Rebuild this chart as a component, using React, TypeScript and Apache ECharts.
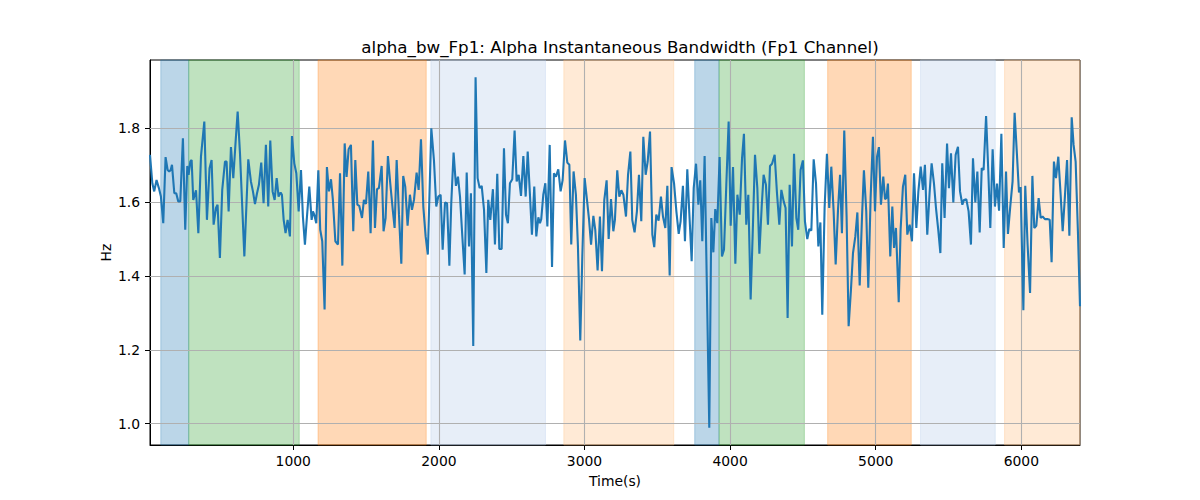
import React, { useEffect, useRef } from "react";
import * as echarts from "echarts";

const TITLE = "alpha_bw_Fp1: Alpha Instantaneous Bandwidth (Fp1 Channel)";
const X_NAME = "Time(s)";
const Y_NAME = "Hz";
const X_TICKS = [1000, 2000, 3000, 4000, 5000, 6000];
const Y_TICKS = [1.0, 1.2, 1.4, 1.6, 1.8];
const X_MIN = 16;
const X_MAX = 6403;
const Y_MIN = 0.942;
const Y_MAX = 1.985;

const times = [
  16, 32, 45, 61, 77, 91, 107, 123, 137, 148, 158, 167, 183, 196, 210, 224, 242, 258, 272, 281, 293, 302, 313, 332, 348, 366, 389, 407, 425, 439, 453, 469, 480, 496, 512, 531, 542, 556, 572, 588, 604, 618, 634,
  664, 691, 709, 723, 737, 751, 764, 780, 796, 812, 828, 842, 858, 872, 886, 899, 913, 922, 934, 947, 961, 977, 991, 1007, 1021, 1037, 1053, 1066, 1080, 1094, 1110, 1126, 1135, 1144, 1158, 1172, 1185, 1199, 1215, 1231, 1245, 1259, 1272, 1289,
  1307, 1321, 1337, 1353, 1366, 1380, 1396, 1412, 1426, 1440, 1453, 1472, 1485, 1499, 1515, 1531, 1547, 1561, 1575, 1588, 1607, 1620, 1634, 1650, 1666, 1682, 1696, 1710, 1726, 1742, 1755, 1769, 1785, 1801, 1815, 1829, 1847, 1861, 1877, 1893, 1909, 1924,
  1948, 1966, 1982, 1996, 2012, 2026, 2042, 2056, 2072, 2085, 2101, 2117, 2131, 2145, 2161, 2177, 2191, 2207, 2220, 2236, 2252, 2266, 2280, 2294, 2310, 2326, 2339, 2353, 2371, 2385, 2401, 2415, 2431, 2447, 2461, 2474, 2488, 2504, 2520, 2534, 2548, 2564,
  2580, 2596, 2610, 2626, 2639, 2655, 2669, 2683, 2694, 2703, 2717, 2731, 2745, 2761, 2777, 2790, 2804, 2820, 2836, 2850, 2866, 2882, 2896, 2909, 2925, 2941, 2955, 2971, 2985, 3001, 3017, 3031, 3045, 3061, 3074, 3090, 3106, 3120, 3136, 3152, 3166, 3182, 3198,
  3209, 3225, 3239, 3253, 3267, 3285, 3299, 3315, 3328, 3344, 3360, 3374, 3390, 3404, 3420, 3434, 3450, 3466, 3479, 3493, 3509, 3525, 3539, 3555, 3569, 3585, 3598, 3615, 3631, 3647, 3660, 3676, 3690, 3706, 3720, 3736, 3750, 3766, 3782, 3795, 3809, 3825,
  3857, 3871, 3885, 3898, 3912, 3928, 3944, 3958, 3974, 3990, 4004, 4020, 4036, 4050, 4066, 4082, 4095, 4111, 4125, 4141, 4155, 4171, 4187, 4201, 4217, 4230, 4246, 4260, 4274, 4288, 4306, 4322, 4338, 4352, 4368, 4381, 4395, 4409, 4425, 4439, 4455, 4468, 4484,
  4500, 4514, 4530, 4544, 4558, 4574, 4590, 4606, 4620, 4633, 4649, 4665, 4681, 4695, 4711, 4725, 4741, 4755, 4768, 4784, 4800, 4814, 4830, 4844, 4860, 4874, 4890, 4906, 4919, 4935, 4949, 4965, 4981, 4995, 5009, 5022, 5036, 5052, 5064, 5073, 5084, 5100, 5114,
  5126, 5139, 5158, 5171, 5187, 5203, 5217, 5233, 5249, 5263, 5279, 5293, 5309, 5325, 5338, 5354, 5370, 5384, 5400, 5414, 5430, 5444, 5457, 5473, 5490, 5503, 5517, 5533, 5549, 5565, 5579, 5595, 5606, 5622, 5638, 5654, 5668, 5684, 5698, 5714, 5728, 5741, 5758,
  5773, 5787, 5803, 5819, 5833, 5847, 5863, 5879, 5895, 5908, 5924, 5940, 5954, 5970, 5984, 5995, 6014, 6027, 6043, 6060, 6076, 6089, 6103, 6119, 6133, 6146, 6162, 6178, 6195, 6208, 6224, 6238, 6254, 6270, 6284, 6298, 6314, 6330, 6346, 6359, 6373, 6389, 6403,
];

const values = [
  1.728, 1.651, 1.629, 1.66, 1.638, 1.615, 1.543, 1.722, 1.687, 1.683, 1.687, 1.701, 1.624, 1.624, 1.602, 1.602, 1.773, 1.525, 1.698, 1.674, 1.71, 1.714, 1.606, 1.632, 1.516, 1.723, 1.818, 1.552, 1.692, 1.714, 1.539, 1.584, 1.593, 1.449, 1.633, 1.71, 1.71, 1.575, 1.749, 1.665, 1.764, 1.845, 1.732,
  1.453, 1.716, 1.656, 1.629, 1.595, 1.624, 1.647, 1.707, 1.597, 1.755, 1.588, 1.767, 1.629, 1.606, 1.665, 1.615, 1.626, 1.62, 1.552, 1.516, 1.552, 1.507, 1.779, 1.705, 1.678, 1.575, 1.687, 1.561, 1.485, 1.561, 1.642, 1.552, 1.575, 1.566, 1.543, 1.686, 1.525, 1.494, 1.309, 1.695, 1.629, 1.662, 1.606, 1.494,
  1.485, 1.678, 1.428, 1.759, 1.668, 1.743, 1.755, 1.521, 1.714, 1.593, 1.59, 1.557, 1.606, 1.595, 1.683, 1.516, 1.767, 1.53, 1.635, 1.638, 1.698, 1.521, 1.557, 1.725, 1.651, 1.584, 1.53, 1.714, 1.566, 1.433, 1.671, 1.642, 1.536, 1.62, 1.579, 1.606, 1.68, 1.633, 1.77, 1.588, 1.507, 1.458,
  1.8, 1.714, 1.588, 1.615, 1.62, 1.471, 1.599, 1.597, 1.428, 1.597, 1.734, 1.644, 1.669, 1.615, 1.507, 1.404, 1.68, 1.48, 1.624, 1.21, 1.938, 1.665, 1.638, 1.644, 1.579, 1.408, 1.606, 1.552, 1.635, 1.485, 1.677, 1.473, 1.473, 1.746, 1.566, 1.543, 1.651, 1.662, 1.794, 1.656, 1.674, 1.617,
  1.725, 1.615, 1.737, 1.615, 1.512, 1.642, 1.507, 1.559, 1.543, 1.554, 1.62, 1.651, 1.534, 1.755, 1.424, 1.678, 1.669, 1.689, 1.629, 1.66, 1.767, 1.707, 1.701, 1.485, 1.683, 1.62, 1.48, 1.225, 1.453, 1.665, 1.606, 1.554, 1.485, 1.563, 1.525, 1.415, 1.561, 1.413, 1.606, 1.659, 1.5, 1.608, 1.521,
  1.552, 1.686, 1.615, 1.632, 1.62, 1.561, 1.674, 1.737, 1.552, 1.518, 1.575, 1.674, 1.548, 1.777, 1.674, 1.71, 1.791, 1.512, 1.478, 1.566, 1.55, 1.615, 1.561, 1.53, 1.644, 1.401, 1.695, 1.651, 1.575, 1.514, 1.548, 1.644, 1.494, 1.689, 1.57, 1.44, 1.638, 1.704, 1.593, 1.659, 1.494, 1.725,
  0.989, 1.557, 1.464, 1.581, 1.543, 1.722, 1.453, 1.471, 1.647, 1.818, 1.536, 1.695, 1.433, 1.62, 1.566, 1.719, 1.785, 1.539, 1.62, 1.336, 1.512, 1.728, 1.638, 1.46, 1.588, 1.674, 1.647, 1.539, 1.698, 1.704, 1.728, 1.624, 1.539, 1.633, 1.602, 1.584, 1.286, 1.647, 1.48, 1.731, 1.557, 1.525, 1.687,
  1.713, 1.548, 1.5, 1.527, 1.523, 1.716, 1.65, 1.48, 1.545, 1.295, 1.584, 1.731, 1.584, 1.696, 1.575, 1.431, 1.579, 1.674, 1.516, 1.794, 1.561, 1.264, 1.363, 1.462, 1.507, 1.572, 1.374, 1.561, 1.686, 1.575, 1.368, 1.611, 1.777, 1.575, 1.723, 1.749, 1.593, 1.669, 1.608, 1.611, 1.65, 1.453, 1.588,
  1.476, 1.53, 1.329, 1.525, 1.642, 1.674, 1.512, 1.539, 1.494, 1.678, 1.53, 1.629, 1.696, 1.633, 1.701, 1.512, 1.624, 1.705, 1.651, 1.584, 1.523, 1.462, 1.705, 1.557, 1.759, 1.638, 1.732, 1.599, 1.728, 1.75, 1.629, 1.593, 1.606, 1.608, 1.575, 1.485, 1.719, 1.599, 1.683, 1.518, 1.692, 1.687, 1.833,
  1.687, 1.53, 1.743, 1.588, 1.65, 1.577, 1.785, 1.476, 1.683, 1.514, 1.588, 1.656, 1.842, 1.728, 1.626, 1.641, 1.307, 1.644, 1.485, 1.354, 1.671, 1.53, 1.536, 1.611, 1.557, 1.561, 1.554, 1.554, 1.552, 1.437, 1.71, 1.665, 1.723, 1.62, 1.521, 1.606, 1.714, 1.509, 1.83, 1.755, 1.71, 1.516, 1.318,
];

const regionStarts = [90, 282, 1170, 1945, 2858, 3757, 3924, 4670, 5308, 5885];
const regionEnds = [282, 1041, 1913, 2732, 3613, 3924, 4510, 5244, 5821, 6403];
const REGION_PALETTE = [
  "rgba(31,119,180,0.3)",
  "rgba(44,160,44,0.3)",
  "rgba(255,127,14,0.3)",
  "rgba(174,199,232,0.3)",
  "rgba(255,187,120,0.3)",
];

const FONT = "DejaVu Sans";

export default function App() {
  const ref = useRef<HTMLDivElement>(null);
  useEffect(() => {
    if (!ref.current) return;
    const chart = echarts.init(ref.current, undefined, { renderer: "svg" });
    const lineData = times.map((t, i) => [t, values[i]]);
    const areaData = regionStarts.map((s, i) => {
      const c = REGION_PALETTE[i % REGION_PALETTE.length];
      return [
        { xAxis: s, itemStyle: { color: c, borderColor: c, borderWidth: 1 } },
        { xAxis: regionEnds[i] },
      ];
    });
    const gridLines = [
      ...X_TICKS.map((v) => ({ xAxis: v })),
      ...Y_TICKS.map((v) => ({ yAxis: v })),
    ];
    const tickFont = { fontFamily: FONT, fontSize: 13.9, color: "#000" };
    chart.setOption({
      animation: false,
      backgroundColor: "#fff",
      title: {
        text: TITLE,
        left: 615,
        top: 33,
        textAlign: "center",
        textStyle: { fontFamily: FONT, fontSize: 16.7, fontWeight: "normal", color: "#000" },
      },
      grid: {
        left: 150,
        right: 120,
        top: 60,
        bottom: 55,
        show: true,
        borderColor: "#000",
        borderWidth: 1,
        backgroundColor: "transparent",
      },
      xAxis: {
        type: "value",
        min: X_MIN,
        max: X_MAX,
        name: X_NAME,
        nameLocation: "middle",
        nameGap: 29,
        nameTextStyle: tickFont,
        axisLine: { show: true, lineStyle: { color: "#000", width: 1 } },
        axisTick: { show: true, length: 5, lineStyle: { color: "#000", width: 1 }, customValues: X_TICKS },
        axisLabel: { ...tickFont, margin: 9, customValues: X_TICKS, formatter: (v: number) => String(v) },
        splitLine: { show: false },
      },
      yAxis: {
        type: "value",
        min: Y_MIN,
        max: Y_MAX,
        name: Y_NAME,
        nameLocation: "middle",
        nameRotate: 90,
        nameGap: 37,
        nameMoveOverlap: false,
        nameTextStyle: tickFont,
        axisLine: { show: true, lineStyle: { color: "#000", width: 1 } },
        axisTick: { show: true, length: 5, lineStyle: { color: "#000", width: 1 }, customValues: Y_TICKS },
        axisLabel: { ...tickFont, margin: 10, customValues: Y_TICKS, formatter: (v: number) => v.toFixed(1) },
        splitLine: { show: false },
      },
      series: [
        {
          type: "line",
          data: [],
          z: 1,
          silent: true,
          markArea: { silent: true, z: 1, data: areaData },
        },
        {
          type: "line",
          data: [],
          z: 2,
          silent: true,
          markLine: {
            silent: true,
            z: 2,
            symbol: "none",
            label: { show: false },
            lineStyle: { color: "#b0b0b0", width: 1.1, type: "solid" },
            emphasis: { disabled: true },
            data: gridLines,
          },
        },
        {
          type: "line",
          data: lineData,
          z: 3,
          showSymbol: false,
          symbol: "none",
          lineStyle: { color: "#1f77b4", width: 2.1 },
          itemStyle: { color: "#1f77b4" },
          clip: true,
        },
      ],
    });
    return () => chart.dispose();
  }, []);
  return (
    <div
      ref={ref}
      style={{ position: "fixed", left: 0, top: 0, width: 1200, height: 500 }}
    />
  );
}
